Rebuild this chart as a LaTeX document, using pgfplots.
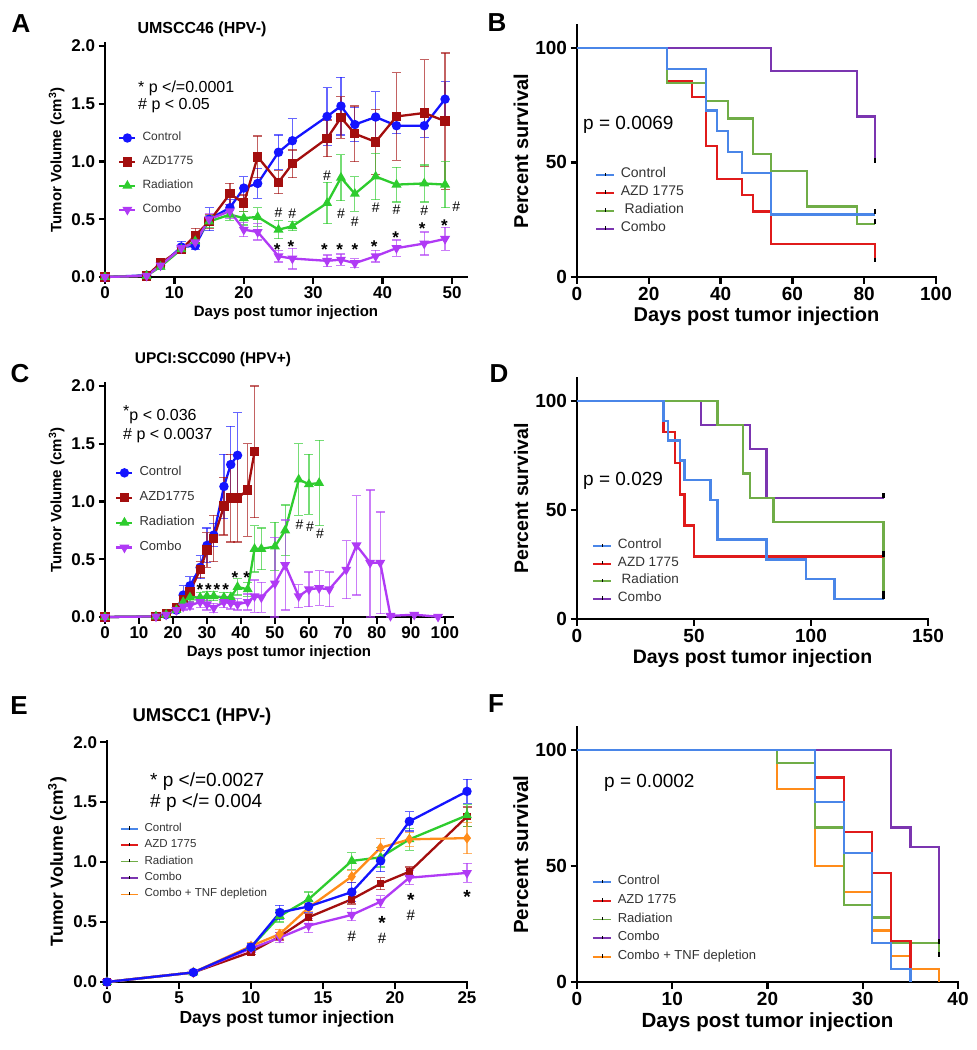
\documentclass[border=0pt]{standalone}
\usepackage{fontspec}
\setmainfont{Liberation Sans}
\usepackage{pgfplots}
\pgfplotsset{compat=1.18}

\newcommand{\fs}[1]{\fontsize{#1}{#1}\selectfont}

% tumour growth colours
\definecolor{tBlue}{HTML}{1414FF}
\definecolor{tRed}{HTML}{A30E0E}
\definecolor{tGreen}{HTML}{2ECC2E}
\definecolor{tPurple}{HTML}{B03AF5}
\definecolor{tOrange}{HTML}{FF8C1A}
% survival colours
\definecolor{sBlue}{HTML}{4A86E8}
\definecolor{sRed}{HTML}{E01B1B}
\definecolor{sGreen}{HTML}{70AD47}
\definecolor{sPurple}{HTML}{7B35B0}
\definecolor{sOrange}{HTML}{FF8C1A}

\tikzset{
  hs/.style={font=\fs{14}, inner sep=0pt},
  st/.style={font=\fs{17}\bfseries, inner sep=0pt, yshift=-4pt},
}

\pgfplotsset{
  gp/.style={
    scale only axis, clip=false, anchor=south west,
    axis x line*=bottom, axis y line*=left,
    axis line style={-, line width=2.6pt, line cap=rect},
    major tick style={black, line width=2.4pt},
    major tick length=6.5pt, tick align=outside,
    /pgf/number format/assume math mode=true,
    legend cell align=left,
  },
  tumor/.style={gp, ymin=0, ytick={0,0.5,1,1.5,2},
    yticklabel style={/pgf/number format/.cd, fixed, fixed zerofill, precision=1},
    ylabel={Tumor Volume (cm\textsuperscript{3})},
    xlabel={Days post tumor injection},
    legend image code/.code={\draw[mark repeat=2,mark phase=2,##1]
      plot coordinates {(0pt,0pt)(8pt,0pt)(16pt,0pt)};},
  },
  surv/.style={gp, ymin=0, ymax=110, ytick={0,50,100},
    ylabel={Percent survival}, xlabel={Days post tumor injection},
    legend image code/.code={\draw[##1, line width=1.7pt] (0pt,0pt) -- (18pt,0pt);
      \draw[black, line width=0.8pt] (9pt,-0.8pt) -- (9pt,2.5pt);},
  },
  lg/.style n args={4}{legend style={at={(axis description cs:#1,#2)},
    anchor=north west, draw=none, fill=none, inner sep=0pt,
    font=\fs{#3}, text=black!80, row sep=#4,
    nodes={inner sep=0pt, text height=0.72em, text depth=0.22em},
    /tikz/every odd column/.append style={column sep=6pt}}},
  ser/.style={line width=2.3pt, mark size=3.5pt, mark options={solid},
    error bars/y dir=both, error bars/y explicit,
    error bars/error bar style={line width=1.2pt, opacity=0.65},
    error bars/error mark options={rotate=90, mark size=4.5pt, line width=1.2pt, opacity=0.65}},
  sv/.style={const plot, line width=2.3pt, no marks},
  cen/.style={black, line width=2.2pt, forget plot, no marks},
}

\begin{document}
\begin{tikzpicture}
\useasboundingbox (0pt,0pt) rectangle (977pt,-1050pt);
\fill[white] (0pt,0pt) rectangle (977pt,-1050pt);

% ---------------- A ----------------
\begin{axis}[tumor, at={(105pt,-277pt)}, width=362pt, height=234pt,
  xmin=0, xmax=52.16, ymax=2.026, xtick={0,10,20,30,40,50},
  tick label style={font=\fs{17}\bfseries}, label style={font=\fs{15}\bfseries},
  lg={0.036}{0.615}{12}{14.5pt}]
\addplot[ser, tBlue, mark=*] coordinates {
 (0,0) +- (0,0) (6,0.015) +- (0,0.005) (8,0.10) +- (0,0.02) (11,0.26) +- (0,0.05)
 (13,0.27) +- (0,0.03) (15,0.50) +- (0,0.10) (18,0.60) +- (0,0.07) (20,0.77) +- (0,0.10)
 (22,0.81) +- (0,0.13) (25,1.08) +- (0,0.15) (27,1.18) +- (0,0.19) (32,1.39) +- (0,0.25)
 (34,1.48) +- (0,0.25) (36,1.32) +- (0,0.15) (39,1.385) +- (0,0.22) (42,1.31) +- (0,0.07)
 (46,1.31) +- (0,0.10) (49,1.54) +- (0,0.15)};
\addlegendentry{Control}
\addplot[ser, tRed, mark=square*] coordinates {
 (0,0) +- (0,0) (6,0.01) +- (0,0) (8,0.12) +- (0,0.02) (11,0.24) +- (0,0.03)
 (13,0.36) +- (0,0.06) (15,0.48) +- (0,0.06) (18,0.72) +- (0,0.09) (20,0.64) +- (0,0.07)
 (22,1.04) +- (0,0.18) (25,0.82) +- (0,0.10) (27,0.98) +- (0,0.12) (32,1.20) +- (0,0.16)
 (34,1.38) +- (0,0.18) (36,1.24) +- (0,0.24) (39,1.17) +- (0,0.28) (42,1.39) +- (0,0.38)
 (46,1.42) +- (0,0.46) (49,1.35) +- (0,0.59)};
\addlegendentry{AZD1775}
\addplot[ser, tGreen, mark=triangle*] coordinates {
 (0,0) +- (0,0) (6,0.01) +- (0,0) (8,0.09) +- (0,0.02) (11,0.24) +- (0,0.03)
 (13,0.31) +- (0,0.03) (15,0.48) +- (0,0.05) (18,0.54) +- (0,0.05) (20,0.51) +- (0,0.06)
 (22,0.52) +- (0,0.08) (25,0.41) +- (0,0.08) (27,0.44) +- (0,0.04) (32,0.64) +- (0,0.18)
 (34,0.86) +- (0,0.20) (36,0.72) +- (0,0.15) (39,0.87) +- (0,0.20) (42,0.80) +- (0,0.15)
 (46,0.81) +- (0,0.16) (49,0.80) +- (0,0.20)};
\addlegendentry{Radiation}
\addplot[ser, tPurple, mark=triangle*, mark options={solid, rotate=180}] coordinates {
 (0,0) +- (0,0) (6,0.01) +- (0,0) (8,0.10) +- (0,0.02) (11,0.25) +- (0,0.03)
 (13,0.30) +- (0,0.03) (15,0.50) +- (0,0.05) (18,0.57) +- (0,0.06) (20,0.41) +- (0,0.06)
 (22,0.39) +- (0,0.07) (25,0.18) +- (0,0.05) (27,0.16) +- (0,0.09) (32,0.14) +- (0,0.05)
 (34,0.15) +- (0,0.05) (36,0.12) +- (0,0.04) (39,0.18) +- (0,0.05) (42,0.25) +- (0,0.07)
 (46,0.29) +- (0,0.10) (49,0.33) +- (0,0.10)};
\addlegendentry{Combo}
\node[hs] at (axis cs:32,0.88) {\#};
\node[hs] at (axis cs:25,0.56) {\#};
\node[hs] at (axis cs:27,0.55) {\#};
\node[hs] at (axis cs:34,0.55) {\#};
\node[hs] at (axis cs:36,0.48) {\#};
\node[hs] at (axis cs:39,0.60) {\#};
\node[hs] at (axis cs:42,0.58) {\#};
\node[hs] at (axis cs:46,0.57) {\#};
\node[hs] at (axis cs:50.6,0.61) {\#};
\node[st] at (axis cs:24.8,0.27) {*};
\node[st] at (axis cs:26.8,0.30) {*};
\node[st] at (axis cs:31.6,0.27) {*};
\node[st] at (axis cs:33.8,0.27) {*};
\node[st] at (axis cs:36,0.27) {*};
\node[st] at (axis cs:38.8,0.30) {*};
\node[st] at (axis cs:41.9,0.375) {*};
\node[st] at (axis cs:45.7,0.45) {*};
\node[st] at (axis cs:48.9,0.48) {*};
\end{axis}

% ---------------- B ----------------
\begin{axis}[surv, at={(577pt,-277pt)}, width=359pt, height=252pt,
  xmin=0, xmax=100, xtick={0,20,40,60,80,100},
  tick label style={font=\fs{19}\bfseries}, label style={font=\fs{20}\bfseries},
  lg={0.05}{0.424}{14}{8.5pt}]
\addlegendimage{sv, sBlue}\addlegendentry{Control}
\addlegendimage{sv, sRed}\addlegendentry{AZD 1775}
\addlegendimage{sv, sGreen}\addlegendentry{\ Radiation}
\addlegendimage{sv, sPurple}\addlegendentry{Combo}
\addplot[sv, sPurple, forget plot] coordinates {(0,100)(54,90)(78,70)(83,70)(83,52)};
\addplot[sv, sRed, forget plot] coordinates {(0,100)(25,85.7)(32,78.6)(36,57.1)(39,42.9)(46,35.7)(49,28.6)(54,14.3)(83,14.3)(83,8.5)};
\addplot[sv, sGreen, forget plot] coordinates {(0,100)(25,84.6)(36,76.9)(42,69.2)(49,53.8)(54,46.2)(64,30.8)(78,23.1)(83,23.1)};
\addplot[sv, sBlue, forget plot] coordinates {(0,100)(25,90.9)(36,72.7)(39,63.6)(42,54.5)(46,45.5)(54,27.3)(83,27.3)};
\addplot[cen] coordinates {(83,27.3)(83,29.8)};
\addplot[cen] coordinates {(83,23.1)(83,25.3)};
\addplot[cen] coordinates {(83,52)(83,49.6)};
\addplot[cen] coordinates {(83,8.5)(83,6.6)};
\end{axis}

% ---------------- C ----------------
\begin{axis}[tumor, at={(105pt,-617pt)}, width=348pt, height=234pt,
  xmin=0, xmax=102.4, ymax=2.026, xtick={0,10,20,30,40,50,60,70,80,90,100},
  tick label style={font=\fs{17}\bfseries}, label style={font=\fs{15}\bfseries},
  lg={0.029}{0.637}{13}{15.5pt}]
\addplot[ser, tBlue, mark=*] coordinates {
 (0,0) +- (0,0) (15,0.005) +- (0,0) (18,0.02) +- (0,0.01) (21,0.06) +- (0,0.02)
 (23,0.19) +- (0,0.08) (25,0.27) +- (0,0.08) (28,0.43) +- (0,0.10) (30,0.62) +- (0,0.15)
 (32,0.71) +- (0,0.10) (35,1.13) +- (0,0.28) (37,1.32) +- (0,0.33) (39,1.40) +- (0,0.37)};
\addlegendentry{Control}
\addplot[ser, tRed, mark=square*] coordinates {
 (0,0) +- (0,0) (15,0.005) +- (0,0) (18,0.03) +- (0,0.01) (21,0.08) +- (0,0.02)
 (23,0.15) +- (0,0.04) (25,0.22) +- (0,0.05) (28,0.41) +- (0,0.07) (30,0.58) +- (0,0.15)
 (32,0.68) +- (0,0.20) (35,0.96) +- (0,0.25) (37,1.03) +- (0,0.38) (39,1.03) +- (0,0.38)
 (42,1.10) +- (0,0.40) (44,1.43) +- (0,0.57)};
\addlegendentry{AZD1775}
\addplot[ser, tGreen, mark=triangle*] coordinates {
 (0,0) +- (0,0) (15,0.005) +- (0,0) (18,0.02) +- (0,0.01) (21,0.06) +- (0,0.02)
 (23,0.13) +- (0,0.03) (25,0.17) +- (0,0.04) (28,0.17) +- (0,0.04) (30,0.18) +- (0,0.04)
 (32,0.18) +- (0,0.04) (35,0.17) +- (0,0.04) (37,0.17) +- (0,0.04) (39,0.26) +- (0,0.07)
 (42,0.24) +- (0,0.06) (44,0.59) +- (0,0.20) (46,0.59) +- (0,0.18) (50,0.61) +- (0,0.21)
 (53,0.75) +- (0,0.22) (57,1.19) +- (0,0.31) (60,1.15) +- (0,0.26) (63,1.16) +- (0,0.37)};
\addlegendentry{Radiation}
\addplot[ser, tPurple, mark=triangle*, mark options={solid, rotate=180}] coordinates {
 (0,0) +- (0,0) (15,0.005) +- (0,0) (18,0.02) +- (0,0.01) (21,0.06) +- (0,0.02)
 (23,0.09) +- (0,0.03) (25,0.10) +- (0,0.03) (28,0.13) +- (0,0.05) (30,0.11) +- (0,0.05)
 (32,0.08) +- (0,0.04) (35,0.13) +- (0,0.05) (37,0.12) +- (0,0.05) (39,0.11) +- (0,0.05)
 (42,0.13) +- (0,0.07) (44,0.18) +- (0,0.14) (46,0.17) +- (0,0.13)
 (50,0.29) += (0,0.40) -= (0,0.29) (53,0.45) +- (0,0.39) (57,0.18) +- (0,0.10)
 (60,0.24) +- (0,0.15) (63,0.25) +- (0,0.15) (66,0.24) +- (0,0.15) (71,0.41) +- (0,0.25)
 (74,0.62) +- (0,0.43) (78,0.47) += (0,0.63) -= (0,0.47) (81,0.47) +- (0,0.44)
 (84,0.01) +- (0,0.01) (91,0.02) +- (0,0.01) (98,0.003) +- (0,0)};
\addlegendentry{Combo}
\node[st] at (axis cs:27.9,0.27) {*};
\node[st] at (axis cs:30.4,0.27) {*};
\node[st] at (axis cs:32.9,0.27) {*};
\node[st] at (axis cs:35.5,0.27) {*};
\node[st] at (axis cs:38.2,0.375) {*};
\node[st] at (axis cs:41.7,0.375) {*};
\node[hs] at (axis cs:57.2,0.80) {\#};
\node[hs] at (axis cs:60.3,0.78) {\#};
\node[hs] at (axis cs:63.3,0.72) {\#};
\end{axis}

% ---------------- D ----------------
\begin{axis}[surv, at={(577pt,-619pt)}, width=351pt, height=241pt,
  xmin=0, xmax=150, ymax=110.5, xtick={0,50,100,150},
  tick label style={font=\fs{19}\bfseries}, label style={font=\fs{19.5}\bfseries},
  lg={0.043}{0.323}{13.5}{8.2pt}]
\addlegendimage{sv, sBlue}\addlegendentry{Control}
\addlegendimage{sv, sRed}\addlegendentry{AZD 1775}
\addlegendimage{sv, sGreen}\addlegendentry{\ Radiation}
\addlegendimage{sv, sPurple}\addlegendentry{Combo}
\addplot[sv, sPurple, forget plot] coordinates {(0,100)(53,88.9)(74,77.8)(81,55.6)(131,55.6)};
\addplot[sv, sGreen, forget plot] coordinates {(0,100)(60,88.9)(71,66.7)(74,55.6)(84,44.4)(131,44.4)(131,13)};
\addplot[sv, sRed, forget plot] coordinates {(0,100)(37,85.7)(42,71.4)(44,57.1)(46,42.9)(50,28.6)(131,28.6)};
\addplot[sv, sBlue, forget plot] coordinates {(0,100)(37,90.9)(39,81.8)(44,72.7)(46,63.6)(57,54.5)(60,36.4)(81,27.3)(98,18.2)(110,9.1)(131,9.1)};
\addplot[cen] coordinates {(131,55.6)(131,58)};
\addplot[cen] coordinates {(131,28.6)(131,31)};
\addplot[cen] coordinates {(131,13)(131,9.3)};
\addplot[cen] coordinates {(131,9.1)(131,11.5)};
\end{axis}

% ---------------- E ----------------
\begin{axis}[tumor, at={(107pt,-982pt)}, width=360pt, height=241pt,
  xmin=0, xmax=25, ymax=2.01, xtick={0,5,10,15,20,25},
  tick label style={font=\fs{17}\bfseries}, label style={font=\fs{17.5}\bfseries},
  legend image code/.code={\draw[#1, line width=1.5pt] (0pt,0pt) -- (17pt,0pt);
    \draw[black, line width=0.7pt] (8.5pt,-0.7pt) -- (8.5pt,2.5pt);},
  lg={0.036}{0.656}{11.5}{7pt}]
\addlegendimage{sBlue}\addlegendentry{Control}
\addlegendimage{sRed}\addlegendentry{AZD 1775}
\addlegendimage{sGreen}\addlegendentry{Radiation}
\addlegendimage{sPurple}\addlegendentry{Combo}
\addlegendimage{sOrange}\addlegendentry{Combo + TNF depletion}
\addplot[ser, tRed, mark=square*, mark size=2.5pt, forget plot] coordinates {
 (0,0) +- (0,0) (6,0.08) +- (0,0.01) (10,0.25) +- (0,0.02) (12,0.38) +- (0,0.03)
 (14,0.54) +- (0,0.03) (17,0.69) +- (0,0.04) (19,0.82) +- (0,0.05) (21,0.92) +- (0,0.04)
 (25,1.38) +- (0,0.08)};
\addplot[ser, tGreen, mark=triangle*, forget plot] coordinates {
 (0,0) +- (0,0) (6,0.08) +- (0,0.01) (10,0.29) +- (0,0.03) (12,0.55) +- (0,0.05)
 (14,0.69) +- (0,0.06) (17,1.01) +- (0,0.07) (19,1.04) +- (0,0.08) (21,1.19) +- (0,0.09)
 (25,1.39) +- (0,0.09)};
\addplot[ser, tPurple, mark=triangle*, mark options={solid, rotate=180}, forget plot] coordinates {
 (0,0) +- (0,0) (6,0.08) +- (0,0.01) (10,0.28) +- (0,0.03) (12,0.37) +- (0,0.04)
 (14,0.47) +- (0,0.06) (17,0.56) +- (0,0.05) (19,0.67) +- (0,0.05) (21,0.87) +- (0,0.06)
 (25,0.91) +- (0,0.08)};
\addplot[ser, tOrange, mark=diamond*, forget plot] coordinates {
 (0,0) +- (0,0) (6,0.08) +- (0,0.01) (10,0.30) +- (0,0.03) (12,0.40) +- (0,0.04)
 (14,0.62) +- (0,0.03) (17,0.88) +- (0,0.05) (19,1.12) +- (0,0.08) (21,1.19) +- (0,0.06)
 (25,1.20) +- (0,0.13)};
\addplot[ser, tBlue, mark=*, forget plot] coordinates {
 (0,0) +- (0,0) (6,0.08) +- (0,0.01) (10,0.29) +- (0,0.03) (12,0.58) +- (0,0.06)
 (14,0.63) +- (0,0.05) (17,0.75) +- (0,0.08) (19,1.01) +- (0,0.09) (21,1.34) +- (0,0.08)
 (25,1.59) +- (0,0.10)};
\node[hs, font=\fs{15}] at (axis cs:17,0.38) {\#};
\node[hs, font=\fs{15}] at (axis cs:19.1,0.36) {\#};
\node[hs, font=\fs{15}] at (axis cs:21.1,0.555) {\#};
\node[st, font=\fs{19}\bfseries] at (axis cs:19.1,0.53) {*};
\node[st, font=\fs{19}\bfseries] at (axis cs:21.1,0.72) {*};
\node[st, font=\fs{19}\bfseries] at (axis cs:25,0.74) {*};
\end{axis}

% ---------------- F ----------------
\begin{axis}[surv, at={(577pt,-982pt)}, width=381pt, height=255pt,
  xmin=0, xmax=40, xtick={0,10,20,30,40},
  tick label style={font=\fs{19}\bfseries}, label style={font=\fs{20.5}\bfseries},
  lg={0.039}{0.411}{13}{9.3pt}]
\addlegendimage{sv, sBlue}\addlegendentry{Control}
\addlegendimage{sv, sRed}\addlegendentry{AZD 1775}
\addlegendimage{sv, sGreen}\addlegendentry{Radiation}
\addlegendimage{sv, sPurple}\addlegendentry{Combo}
\addlegendimage{sv, sOrange}\addlegendentry{Combo + TNF depletion}
\addplot[sv, sPurple, forget plot] coordinates {(0,100)(33,66.7)(35,58.3)(38,58.3)(38,18.5)};
\addplot[sv, sOrange, forget plot] coordinates {(0,100)(21,83.3)(25,50)(28,38.9)(31,22.2)(33,11.1)(35,5.6)(38,0)};
\addplot[sv, sGreen, forget plot] coordinates {(0,100)(21,94.4)(25,66.7)(28,33.3)(31,27.8)(33,16.7)(38,16.7)(38,13)};
\addplot[sv, sRed, forget plot] coordinates {(0,100)(25,88.2)(28,64.7)(31,47.1)(33,17.6)(35,0)};
\addplot[sv, sBlue, forget plot] coordinates {(0,100)(25,77.8)(28,55.6)(31,16.7)(33,5.6)(35,0)};
\addplot[cen] coordinates {(38,18.5)(38,16.3)};
\addplot[cen] coordinates {(38,13)(38,10.8)};
\end{axis}

% ---------------- texts ----------------
\node[font=\fs{26}\bfseries] at (21pt,-24pt) {A};
\node[font=\fs{26}\bfseries] at (497pt,-23pt) {B};
\node[font=\fs{26}\bfseries] at (20pt,-374pt) {C};
\node[font=\fs{26}\bfseries] at (499pt,-374pt) {D};
\node[font=\fs{26}\bfseries] at (19pt,-706pt) {E};
\node[font=\fs{26}\bfseries] at (496pt,-704pt) {F};

\node[font=\fs{16}\bfseries, anchor=base] at (202pt,-33pt) {UMSCC46 (HPV-)};
\node[font=\fs{15.5}\bfseries, anchor=base] at (213pt,-363pt) {UPCI:SCC090 (HPV+)};
\node[font=\fs{18.5}\bfseries, anchor=base] at (202pt,-721pt) {UMSCC1 (HPV-)};

\node[font=\fs{16}, anchor=base west, inner sep=0pt] at (138pt,-92pt) {* p </=0.0001};
\node[font=\fs{16}, anchor=base west, inner sep=0pt] at (138pt,-109pt) {\# p < 0.05};
\node[font=\fs{16}, anchor=base west, inner sep=0pt] at (123pt,-420pt) {\raisebox{4pt}{*}p < 0.036};
\node[font=\fs{16}, anchor=base west, inner sep=0pt] at (123pt,-439pt) {\# p < 0.0037};
\node[font=\fs{19}, anchor=base west, inner sep=0pt] at (150pt,-786pt) {* p </=0.0027};
\node[font=\fs{19}, anchor=base west, inner sep=0pt] at (150pt,-807pt) {\# p </= 0.004};

\node[font=\fs{19}, anchor=base west, inner sep=0pt] at (583pt,-129pt) {p = 0.0069};
\node[font=\fs{19}, anchor=base west, inner sep=0pt] at (583pt,-485pt) {p = 0.029};
\node[font=\fs{19}, anchor=base west, inner sep=0pt] at (604pt,-787pt) {p = 0.0002};
\end{tikzpicture}
\end{document}
